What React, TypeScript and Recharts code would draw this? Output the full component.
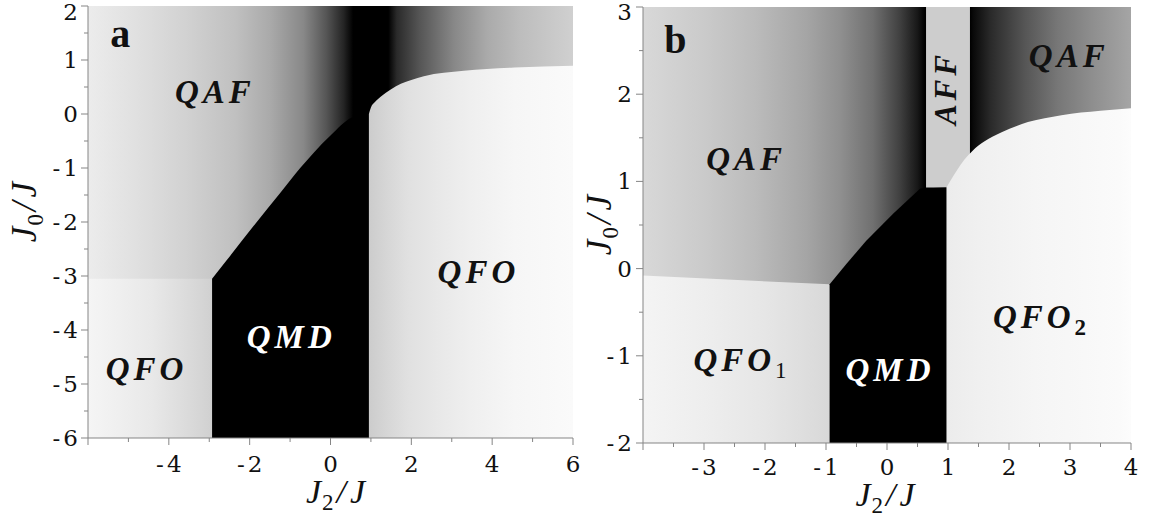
import React from 'react';
import { ComposedChart, Area, XAxis, YAxis, ReferenceDot } from 'recharts';

type Pt = { x: number; y: number };
type Stop = [number, number]; // [J2/J position, gray level 0..255]

const AXIS = '#858585';
const TICK_FONT = '"DejaVu Serif", serif';
const MATH_FONT = '"Liberation Serif", "DejaVu Serif", serif';
const TICK_SIZE = 23;

// ---------------- panel a ----------------
const aXDomain: [number, number] = [-6, 6];
const aYDomain: [number, number] = [-6, 2];
const aXTicks = [-6, -5, -4, -3, -2, -1, 0, 1, 2, 3, 4, 5, 6];
const aXMajor = [-6, -4, -2, 0, 2, 4, 6];
const aXLabels = [-4, -2, 0, 2, 4, 6];
const aYTicks = [-6, -5.5, -5, -4.5, -4, -3.5, -3, -2.5, -2, -1.5, -1, -0.5, 0, 0.5, 1, 1.5, 2];
const aYMajor = [-6, -5, -4, -3, -2, -1, 0, 1, 2];
const aYLabels = [-6, -5, -4, -3, -2, -1, 0, 1, 2];

// phase boundaries (upper edge of each region, lower edge is the axis floor)
const aQaf: Pt[] = [{ x: -6, y: 2 }, { x: 6, y: 2 }];
const aQfoLeft: Pt[] = [{ x: -6, y: -3.05 }, { x: -2.93, y: -3.05 }];
const aQmd: Pt[] = [
  { x: -2.93, y: -3.05 }, { x: -2.56, y: -2.7 }, { x: -1.9, y: -2.07 }, { x: -1.24, y: -1.46 },
  { x: -0.75, y: -1.0 }, { x: -0.42, y: -0.72 }, { x: 0.0, y: -0.4 }, { x: 0.52, y: -0.07 },
  { x: 0.95, y: 0.0 },
];
const aQfoRight: Pt[] = [
  { x: 0.95, y: 0.0 }, { x: 1.0, y: 0.12 }, { x: 1.1, y: 0.22 }, { x: 1.24, y: 0.32 },
  { x: 1.5, y: 0.46 }, { x: 1.74, y: 0.56 }, { x: 2.0, y: 0.63 }, { x: 2.31, y: 0.7 },
  { x: 3.3, y: 0.8 }, { x: 4.55, y: 0.86 }, { x: 6, y: 0.895 },
];

// gray shading along J2/J
const aQafShade: Stop[] = [
  [-6, 236], [-4.8, 224], [-3.6, 210], [-2.35, 192], [-1.5, 170], [-0.67, 136], [-0.1, 85],
  [0.32, 37], [0.56, 0], [1.43, 0], [1.64, 42], [2.2, 85], [3.06, 136], [3.88, 170], [4.7, 189], [6, 208],
];
const aQfoLeftShade: Stop[] = [[-6, 245], [-5.25, 239], [-4.4, 232], [-3.75, 222], [-3.26, 214], [-2.93, 208]];
const aQfoRightShade: Stop[] = [[0.95, 204], [1.39, 214], [1.89, 224], [2.64, 232], [3.46, 239], [4.55, 246], [6, 250]];

// ---------------- panel b ----------------
const bXDomain: [number, number] = [-4, 4];
const bYDomain: [number, number] = [-2, 3];
const bXTicks = [-4, -3.5, -3, -2.5, -2, -1.5, -1, -0.5, 0, 0.5, 1, 1.5, 2, 2.5, 3, 3.5, 4];
const bXMajor = [-4, -3, -2, -1, 0, 1, 2, 3, 4];
const bXLabels = [-3, -2, -1, 0, 1, 2, 3, 4];
const bYTicks = [-2, -1.5, -1, -0.5, 0, 0.5, 1, 1.5, 2, 2.5, 3];
const bYMajor = [-2, -1, 0, 1, 2, 3];
const bYLabels = [-2, -1, 0, 1, 2, 3];

const bQaf: Pt[] = [{ x: -4, y: 3 }, { x: 4, y: 3 }];
const bAff: Pt[] = [{ x: 0.64, y: 3 }, { x: 1.36, y: 3 }];
const bAffFloor = 0.93;
const bQfo1: Pt[] = [{ x: -4, y: -0.08 }, { x: -0.94, y: -0.18 }];
const bQmd: Pt[] = [
  { x: -0.94, y: -0.18 }, { x: -0.67, y: 0.05 }, { x: -0.34, y: 0.32 }, { x: 0.1, y: 0.63 },
  { x: 0.545, y: 0.92 }, { x: 0.975, y: 0.93 },
];
const bQfo2: Pt[] = [
  { x: 0.975, y: 0.93 }, { x: 1.05, y: 1.02 }, { x: 1.15, y: 1.13 }, { x: 1.27, y: 1.25 },
  { x: 1.4, y: 1.35 }, { x: 1.6, y: 1.46 }, { x: 1.87, y: 1.56 }, { x: 2.31, y: 1.68 },
  { x: 2.86, y: 1.76 }, { x: 3.5, y: 1.81 }, { x: 4, y: 1.84 },
];

const bQafShade: Stop[] = [
  [-4, 216], [-2.98, 202], [-2.15, 187], [-1.32, 165], [-0.78, 144], [-0.23, 112], [0.21, 64],
  [0.5, 24], [0.62, 0], [1.36, 0], [1.42, 10], [1.7, 42], [2.25, 85], [2.8, 119], [3.36, 142], [4, 165],
];
const bAffGray = 205;
const bQfo1Shade: Stop[] = [[-4, 244], [-3, 238], [-2, 230], [-1.3, 221], [-0.94, 216]];
const bQfo2Shade: Stop[] = [[0.975, 236], [1.5, 240], [2.4, 245], [3.8, 250], [4, 252]];

// ---------------- helpers ----------------
const gray = (g: number) => `rgb(${g},${g},${g})`;

const shade = (id: string, stops: Stop[]) => {
  const x0 = stops[0][0];
  const x1 = stops[stops.length - 1][0];
  return (
    <linearGradient key={id} id={id} x1="0" y1="0" x2="1" y2="0">
      {stops.map(([x, g], i) => (
        <stop key={i} offset={(x - x0) / (x1 - x0)} stopColor={gray(g)} />
      ))}
    </linearGradient>
  );
};

const region = (key: string, data: Pt[], floor: number, fill: string, curve: 'linear' | 'monotone' = 'linear') => (
  <Area
    key={key}
    data={data}
    dataKey="y"
    baseValue={floor}
    type={curve}
    stroke="none"
    fill={fill}
    fillOpacity={1}
    dot={false}
    activeDot={false}
    isAnimationActive={false}
  />
);

const num = (v: number) =>
  v < 0 ? (
    <>
      <tspan>-</tspan>
      <tspan dx={3}>{-v}</tspan>
    </>
  ) : (
    <tspan>{v}</tspan>
  );

const axisTick = (axis: 'x' | 'y', major: number[], labels: number[], gap: number) => (props: any) => {
  const { x, y, payload } = props;
  const v = payload.value;
  const len = major.includes(v) ? 7 : 4;
  const show = labels.includes(v);
  if (axis === 'x') {
    return (
      <g>
        <line x1={x} y1={y} x2={x} y2={y + len} stroke={AXIS} strokeWidth={1} />
        {show && (
          <text x={x} y={y + gap} textAnchor="middle" fontFamily={TICK_FONT} fontSize={TICK_SIZE} fill="#111">
            {num(v)}
          </text>
        )}
      </g>
    );
  }
  // keep the topmost label inside the page
  const base = Math.max(y + 8, 20);
  return (
    <g>
      <line x1={x} y1={y} x2={x - len} y2={y} stroke={AXIS} strokeWidth={1} />
      {show && (
        <text x={x - gap} y={base} textAnchor="end" fontFamily={TICK_FONT} fontSize={TICK_SIZE} fill="#111">
          {num(v)}
        </text>
      )}
    </g>
  );
};

const xTitle = (dx: number, dy: number) => (p: any) => {
  const vb = p.viewBox || { x: 0, y: 0, width: 0, height: 0 };
  const cx = vb.x + vb.width / 2 + dx;
  const cy = vb.y + dy;
  return (
    <text x={cx} y={cy} textAnchor="middle" fontFamily={MATH_FONT} fontSize={34} fontStyle="italic" fill="#111">
      <tspan>J</tspan>
      <tspan fontSize={23} fontStyle="normal" dy={7} dx={1}>2</tspan>
      <tspan dy={-7} dx={3}>/</tspan>
      <tspan dx={4}>J</tspan>
    </text>
  );
};

const yTitle = (bx: number, dy: number) => (p: any) => {
  const vb = p.viewBox || { x: 0, y: 0, width: 0, height: 0 };
  const cx = vb.x + bx;
  const cy = vb.y + vb.height / 2 + dy;
  return (
    <text
      transform={`translate(${cx},${cy}) rotate(-90)`}
      textAnchor="middle"
      fontFamily={MATH_FONT}
      fontSize={35}
      fontStyle="italic"
      fill="#111"
    >
      <tspan>J</tspan>
      <tspan fontSize={23} fontStyle="normal" dy={7} dx={1}>0</tspan>
      <tspan dy={-7} dx={3}>/</tspan>
      <tspan dx={4}>J</tspan>
    </text>
  );
};

type TagStyle = { color?: string; size?: number; rotate?: boolean; sub?: string; subBold?: boolean; upright?: boolean };

const tag = (key: string, x: number, y: number, text: string, s: TagStyle = {}) => (
  <ReferenceDot
    key={key}
    x={x}
    y={y}
    r={0}
    fill="none"
    stroke="none"
    ifOverflow="visible"
    label={(p: any) => {
      const vb = p.viewBox;
      const cx = vb.x + vb.width / 2;
      const cy = vb.y + vb.height / 2;
      const transform = s.rotate ? `rotate(-90 ${cx} ${cy})` : undefined;
      return (
        <text
          x={cx}
          y={cy}
          transform={transform}
          textAnchor="middle"
          fontFamily={MATH_FONT}
          fontSize={s.size ?? 33}
          fontWeight="bold"
          fontStyle={s.upright ? 'normal' : 'italic'}
          letterSpacing={s.upright ? 0 : 4}
          fill={s.color ?? '#111'}
        >
          {text}
          {s.sub && (
            <tspan fontSize={23} fontStyle="normal" fontWeight={s.subBold ? 'bold' : 'normal'} dy={7} letterSpacing={0}>
              {s.sub}
            </tspan>
          )}
        </text>
      );
    }}
  />
);

const frame = (xd: [number, number], yd: [number, number]) => [
  <XAxis
    key="top"
    xAxisId="top"
    orientation="top"
    type="number"
    domain={xd}
    allowDataOverflow
    height={0}
    tick={false}
    tickLine={false}
    axisLine={{ stroke: AXIS }}
  />,
  <YAxis
    key="right"
    yAxisId="right"
    orientation="right"
    type="number"
    domain={yd}
    allowDataOverflow
    width={0}
    tick={false}
    tickLine={false}
    axisLine={{ stroke: AXIS }}
  />,
];

function PanelA() {
  return (
    <ComposedChart width={580} height={518} margin={{ top: 6, right: 7, bottom: 0, left: 0 }}>
      <defs>
        {shade('shade-a-qaf', aQafShade)}
        {shade('shade-a-qfo-l', aQfoLeftShade)}
        {shade('shade-a-qfo-r', aQfoRightShade)}
      </defs>
      <XAxis
        dataKey="x"
        type="number"
        domain={aXDomain}
        ticks={aXTicks}
        interval={0}
        allowDataOverflow
        height={80}
        tickSize={0}
        tickMargin={0}
        tickLine={false}
        axisLine={{ stroke: AXIS }}
        tick={axisTick('x', aXMajor, aXLabels, 34)}
        label={xTitle(5, 65)}
      />
      <YAxis
        type="number"
        domain={aYDomain}
        ticks={aYTicks}
        interval={0}
        allowDataOverflow
        width={88}
        tickSize={0}
        tickMargin={0}
        tickLine={false}
        axisLine={{ stroke: AXIS }}
        tick={axisTick('y', aYMajor, aYLabels, 10)}
        label={yTitle(36, -10)}
      />
      {frame(aXDomain, aYDomain)}
      {region('a-qaf', aQaf, aYDomain[0], 'url(#shade-a-qaf)')}
      {region('a-qfo-l', aQfoLeft, aYDomain[0], 'url(#shade-a-qfo-l)')}
      {region('a-qmd', aQmd, aYDomain[0], '#000', 'monotone')}
      {region('a-qfo-r', aQfoRight, aYDomain[0], 'url(#shade-a-qfo-r)', 'monotone')}
      {tag('a-letter', -5.2, 1.24, 'a', { upright: true, size: 40 })}
      {tag('a-qaf-t', -2.86, 0.2, 'QAF')}
      {tag('a-qfo-r-t', 3.66, -3.13, 'QFO')}
      {tag('a-qmd-t', -0.97, -4.33, 'QMD', { color: '#fff' })}
      {tag('a-qfo-l-t', -4.55, -4.93, 'QFO')}
    </ComposedChart>
  );
}

function PanelB() {
  return (
    <ComposedChart width={572} height={518} margin={{ top: 7, right: 21, bottom: 0, left: 0 }}>
      <defs>
        {shade('shade-b-qaf', bQafShade)}
        {shade('shade-b-qfo1', bQfo1Shade)}
        {shade('shade-b-qfo2', bQfo2Shade)}
      </defs>
      <XAxis
        dataKey="x"
        type="number"
        domain={bXDomain}
        ticks={bXTicks}
        interval={0}
        allowDataOverflow
        height={75}
        tickSize={0}
        tickMargin={0}
        tickLine={false}
        axisLine={{ stroke: AXIS }}
        tick={axisTick('x', bXMajor, bXLabels, 32)}
        label={xTitle(-2, 63)}
      />
      <YAxis
        type="number"
        domain={bYDomain}
        ticks={bYTicks}
        interval={0}
        allowDataOverflow
        width={63}
        tickSize={0}
        tickMargin={0}
        tickLine={false}
        axisLine={{ stroke: AXIS }}
        tick={axisTick('y', bYMajor, bYLabels, 11)}
        label={yTitle(31, 0)}
      />
      {frame(bXDomain, bYDomain)}
      {region('b-qaf', bQaf, bYDomain[0], 'url(#shade-b-qaf)')}
      {region('b-aff', bAff, bAffFloor, gray(bAffGray))}
      {region('b-qfo1', bQfo1, bYDomain[0], 'url(#shade-b-qfo1)')}
      {region('b-qmd', bQmd, bYDomain[0], '#000')}
      {region('b-qfo2', bQfo2, bYDomain[0], 'url(#shade-b-qfo2)', 'monotone')}
      {tag('b-letter', -3.47, 2.47, 'b', { upright: true, size: 40 })}
      {tag('b-qaf-l', -2.31, 1.13, 'QAF')}
      {tag('b-qaf-r', 2.98, 2.31, 'QAF')}
      {tag('b-aff', 1.13, 2.07, 'AFF', { rotate: true, size: 31 })}
      {tag('b-qfo1-t', -2.41, -1.17, 'QFO', { sub: '1' })}
      {tag('b-qmd-t', 0.05, -1.29, 'QMD', { color: '#fff' })}
      {tag('b-qfo2-t', 2.5, -0.68, 'QFO', { sub: '2', subBold: true })}
    </ComposedChart>
  );
}

export default function App() {
  return (
    <div style={{ position: 'absolute', left: 0, top: 0, width: 1152, height: 518, background: '#fff' }}>
      <div style={{ position: 'absolute', left: 0, top: 0 }}>
        <PanelA />
      </div>
      <div style={{ position: 'absolute', left: 580, top: 0 }}>
        <PanelB />
      </div>
    </div>
  );
}
